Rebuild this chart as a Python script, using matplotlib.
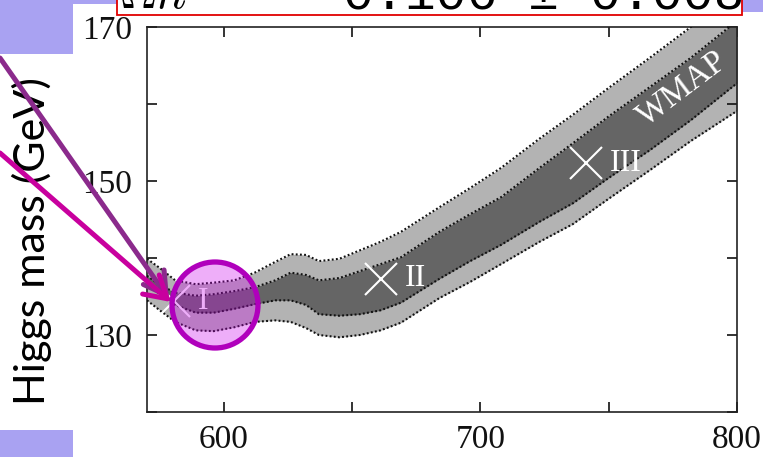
import matplotlib
matplotlib.use('Agg')
import matplotlib.pyplot as plt
from matplotlib.patches import Rectangle, Ellipse, FancyArrowPatch

# ---------------- data ----------------
x_vals = [570, 575, 581, 589, 596, 604, 612, 620, 626, 632, 637, 645, 653,
          661, 669, 684, 696, 708, 723, 736, 750, 766, 782, 800]
outer_upper = [139.9, 138.7, 137.1, 136.6, 136.8, 137.1, 138.1, 139.5, 140.5, 140.4,
               139.6, 139.9, 141.0, 142.1, 143.4, 146.6, 149.1, 151.7, 155.5, 158.6,
               162.1, 166.0, 170.0, 174.3]
inner_upper = [137.7, 136.5, 135.5, 135.1, 135.3, 135.7, 136.2, 137.1, 138.1, 137.8,
               137.1, 137.4, 138.3, 139.2, 140.1, 143.4, 145.7, 147.9, 151.7, 154.9,
               158.4, 162.2, 166.0, 170.8]
inner_lower = [136.6, 135.3, 133.9, 132.9, 132.9, 133.4, 134.0, 134.5, 134.5, 133.9,
               132.7, 132.5, 132.7, 133.2, 134.2, 137.3, 139.6, 141.7, 144.7, 147.1,
               150.4, 154.0, 157.9, 162.7]
outer_lower = [134.5, 133.2, 131.7, 130.6, 130.5, 131.0, 131.7, 131.9, 131.7, 130.9,
               130.0, 129.7, 130.0, 130.6, 131.6, 134.8, 136.9, 139.2, 142.1, 144.4,
               147.7, 151.4, 155.2, 159.1]

bench_x = [580.5, 661.2, 741.2]
bench_y = [134.4, 137.3, 152.3]
bench_labels = ['I', 'II', 'III']

x_ticks = [600, 650, 700, 750, 800]
x_ticklabels = ['600', '', '700', '', '800']
y_ticks = [120, 130, 140, 150, 160, 170]
y_ticklabels = ['', '130', '', '150', '', '170']

band_label = 'WMAP'
y_title = 'Higgs mass (GeV)'
omega_text = r'$\Omega h^2$'
omega_value = '0.106 ± 0.008'

# ---------------- figure ----------------
W, H, DPI = 763, 457, 100
plt.rcParams['mathtext.fontset'] = 'cm'
fig = plt.figure(figsize=(W / DPI, H / DPI), dpi=DPI)
fig.patch.set_facecolor('white')


def fx(px):
    return px / W


def fy(py):
    return 1 - py / H


ax = fig.add_axes([fx(147), fy(412), fx(737) - fx(147), fy(27) - fy(412)])
ax.set_xlim(570, 800)
ax.set_ylim(120, 170)

light = '#b3b3b3'
dark = '#656565'
ax.fill_between(x_vals, outer_lower, outer_upper, color=light, lw=0, zorder=1)
ax.fill_between(x_vals, inner_lower, inner_upper, color=dark, lw=0, zorder=2)
dot = dict(color='#111111', lw=1.5, ls=(0, (0.9, 1.1)), zorder=3)
for curve in (outer_upper, inner_upper, inner_lower, outer_lower):
    ax.plot(x_vals, curve, **dot)

ax.plot(bench_x, bench_y, ls='none', marker='x', ms=23, mew=1.5, color='white', zorder=4)
for bx, by, lab in zip(bench_x, bench_y, bench_labels):
    ax.annotate(lab, (bx, by), xytext=(17, 0), textcoords='offset points',
                ha='left', va='center', color='white', fontsize=23,
                family='Liberation Serif', zorder=5)

ax.text(778.5, 162.0, band_label, rotation=37, rotation_mode='anchor',
        ha='center', va='center', color='white', fontsize=24,
        family='Liberation Serif', zorder=5)

ax.set_xticks(x_ticks)
ax.set_xticklabels(x_ticklabels)
ax.set_yticks(y_ticks)
ax.set_yticklabels(y_ticklabels)
ax.tick_params(direction='in', length=7, width=1.2, top=True, right=True,
               labelsize=24, colors='#111111')
ax.tick_params(axis='x', pad=9)
ax.tick_params(axis='y', pad=11)
for lab in ax.get_xticklabels() + ax.get_yticklabels():
    lab.set_family('Liberation Serif')
for sp in ax.spines.values():
    sp.set_linewidth(1.2)
    sp.set_color('#222222')

# ---------------- slide overlays ----------------
lav = '#a9a2f2'
for (x0, y0, x1, y1) in [(0, 0, 73, 54), (0, 0, 117, 4), (742, 0, 763, 12), (0, 430, 73, 457)]:
    fig.add_artist(Rectangle((fx(x0), fy(y1)), fx(x1) - fx(x0), fy(y0) - fy(y1),
                             transform=fig.transFigure, facecolor=lav, lw=0, zorder=6))

fig.add_artist(Rectangle((fx(117), fy(15)), fx(742) - fx(117), fy(-5) - fy(15),
                         transform=fig.transFigure, facecolor='white',
                         edgecolor='#e00000', lw=1.3, zorder=7))
fig.text(fx(119), fy(9), omega_text, fontsize=37, ha='left', va='baseline', zorder=8)
fig.text(fx(343), fy(9), omega_value, fontsize=37, family='Liberation Mono',
         ha='left', va='baseline', zorder=8)

fig.text(fx(32), fy(241), y_title, rotation=90, family='Lato', fontsize=31,
         ha='center', va='center', zorder=6)

circle = Ellipse((fx(215), fy(305)), 86 / W, 86 / H, transform=fig.transFigure,
                 facecolor=(205 / 255, 5 / 255, 238 / 255, 0.32),
                 edgecolor='#b000bc', lw=3.8, zorder=9)
fig.add_artist(circle)

for (p0, p1, col) in [((0, 58), (169, 299), '#8b2a8c'), ((0, 153), (171, 302), '#c8009e')]:
    arr = FancyArrowPatch((fx(p0[0]), fy(p0[1])), (fx(p1[0]), fy(p1[1])),
                          transform=fig.transFigure,
                          arrowstyle='->,head_length=0.6,head_width=0.35',
                          mutation_scale=26, color=col, lw=3.6,
                          shrinkA=0, shrinkB=0, zorder=10)
    fig.add_artist(arr)

fig.savefig('out.png', dpi=DPI)
